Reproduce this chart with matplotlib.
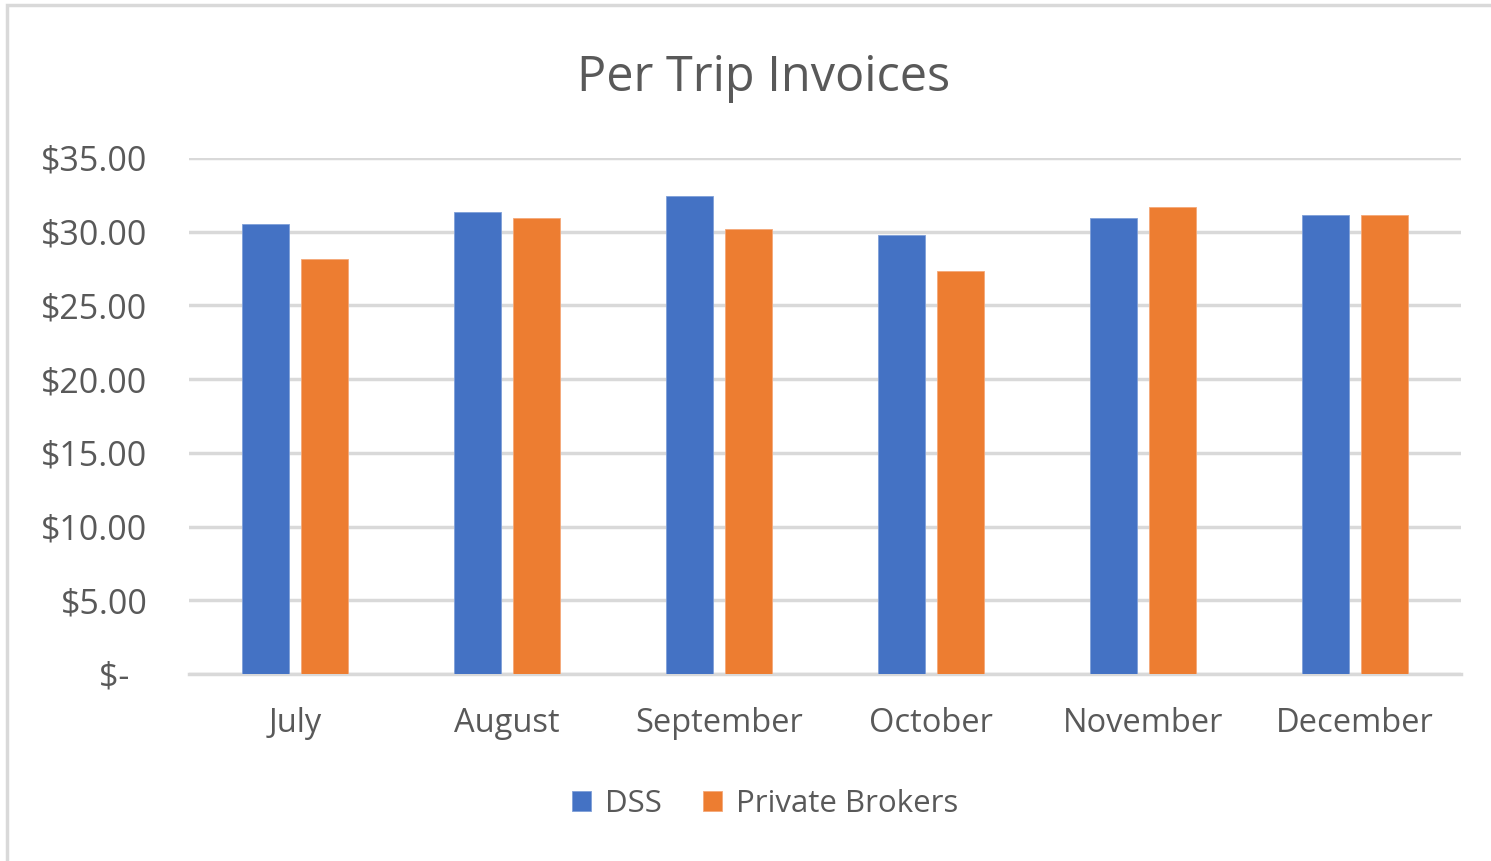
import numpy as np
import matplotlib.pyplot as plt
from matplotlib.patches import Rectangle

months = ['July', 'August', 'September', 'October', 'November', 'December']
dss = [30.55, 31.35, 32.45, 29.75, 30.95, 31.10]
private = [28.15, 30.95, 30.15, 27.35, 31.65, 31.10]
yticks = [0, 5, 10, 15, 20, 25, 30, 35]
ylabels = ['$-  ', '$5.00', '$10.00', '$15.00', '$20.00', '$25.00', '$30.00', '$35.00']

plt.rcParams['font.family'] = ['Open Sans', 'DejaVu Sans']
txt = '#595959'

fig = plt.figure(figsize=(14.91, 8.61), dpi=100)
# rahmen
fig.patches.append(Rectangle((0.005, -0.01), 1.2, 1.004, transform=fig.transFigure,
                             fill=False, edgecolor='#D9D9D9', linewidth=2.5))
ax = fig.add_axes([0.1268, 0.2172, 0.8531, 0.5993])

x = np.arange(len(months))
w = 0.222
off = 0.139
ax.bar(x - off, dss, w, color='#4472C4', edgecolor='#7F9FD8', linewidth=0.6, label='DSS', zorder=3)
ax.bar(x + off, private, w, color='#ED7D31', edgecolor='#F4A878', linewidth=0.6, label='Private Brokers', zorder=3)

ax.set_xlim(-0.5, 5.5)
ax.set_ylim(0, 35)
ax.set_yticks(yticks)
ax.set_yticklabels(ylabels)
ax.set_xticks(x)
ax.set_xticklabels(months)
ax.yaxis.grid(True, color='#D9D9D9', linewidth=2.5, zorder=0)
ax.set_axisbelow(True)
for s in ['top', 'right', 'left']:
    ax.spines[s].set_visible(False)
ax.spines['bottom'].set_color('#D9D9D9')
ax.spines['bottom'].set_linewidth(2.5)
ax.spines['bottom'].set_zorder(1)
ax.tick_params(axis='y', length=0, pad=30, labelsize=24.5, labelcolor=txt)
ax.tick_params(axis='x', length=0, pad=24, labelsize=23.5, labelcolor=txt)

fig.text(0.512, 0.909, 'Per Trip Invoices', ha='center', va='center', fontsize=35, color=txt)

fig.legend(loc='center', bbox_to_anchor=(0.513, 0.066), ncol=2, frameon=False,
           fontsize=22.5, labelcolor=txt, handlelength=0.62, handleheight=0.62,
           handletextpad=0.45, columnspacing=1.3)

fig.savefig('out.png', dpi=100, facecolor='white')
